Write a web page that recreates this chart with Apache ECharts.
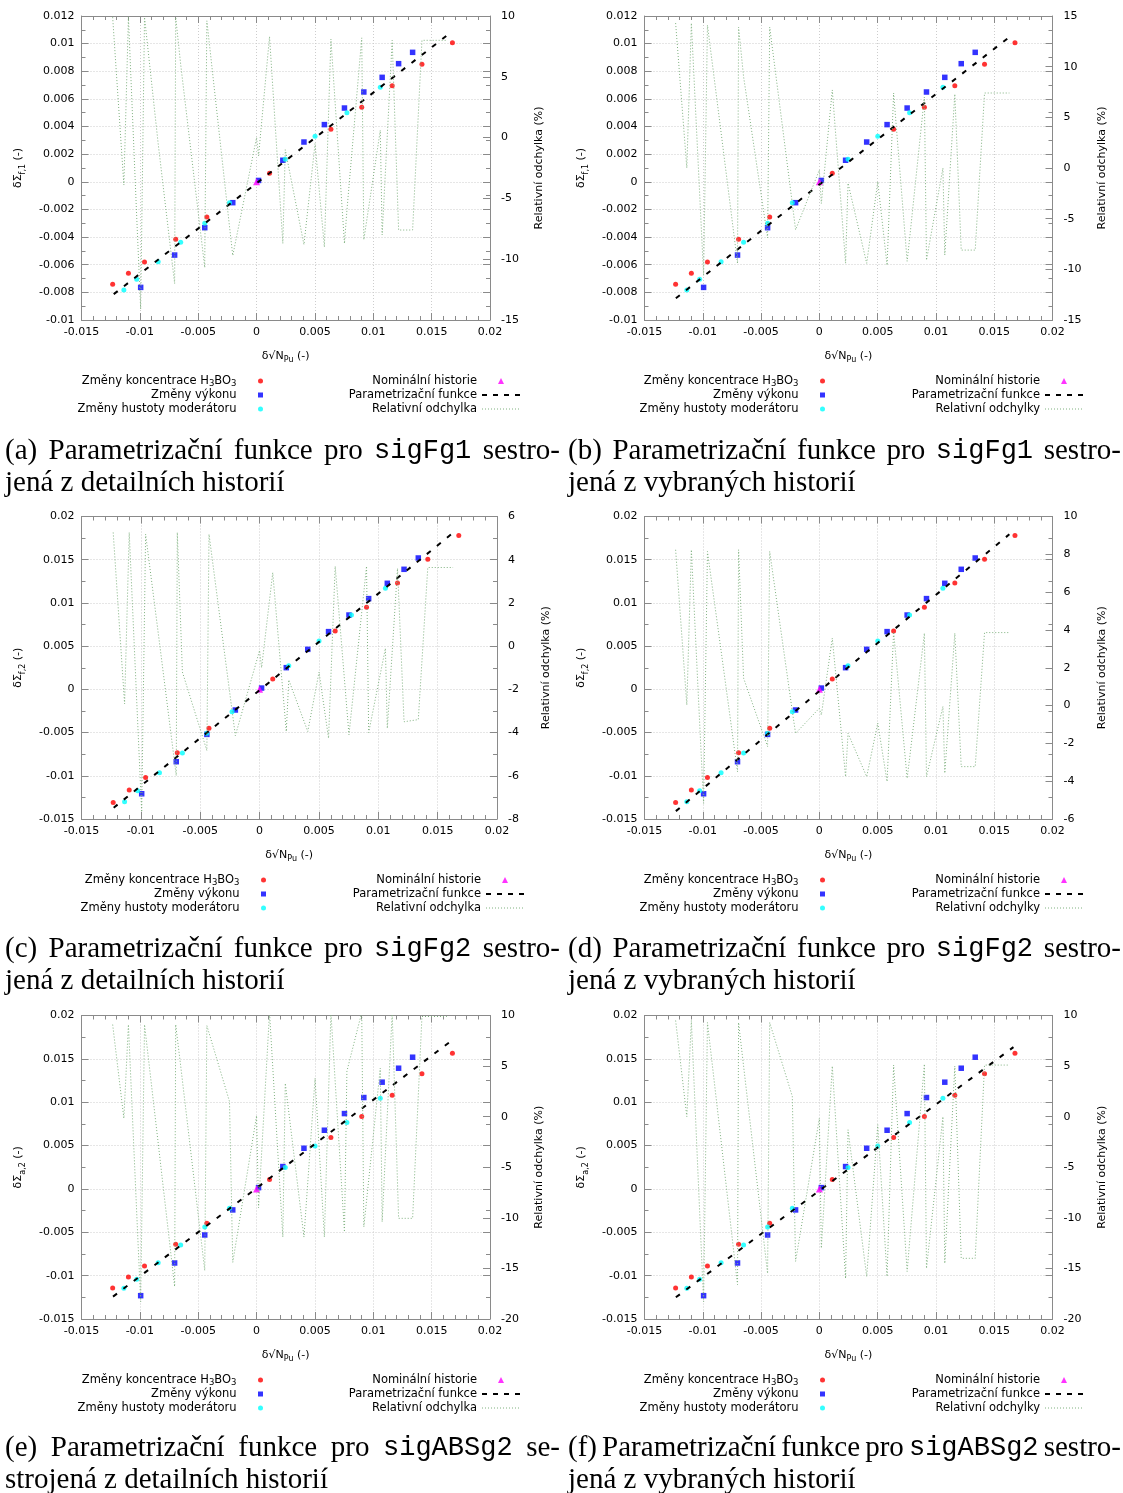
<!DOCTYPE html>
<html>
<head>
<meta charset="utf-8">
<script src="https://cdn.jsdelivr.net/npm/echarts@6/dist/echarts.min.js"></script>
<style>
html,body{margin:0;padding:0;background:#fff;}
#c{width:1123px;height:1493px;}
</style>
</head>
<body>
<div id="c"></div>
<script>
// ---------------- DATA ----------------
// x positions of histories (delta sqrt(N_Pu))
const xRed   = [-0.01233, -0.01098, -0.0096, -0.00693, -0.00426, 0.00111, 0.00637, 0.00901, 0.01162, 0.01417, 0.01678];
const xBlue  = [-0.00993, -0.00702, -0.00444, -0.00204, 0.00017, 0.00225, 0.00406, 0.00581, 0.00753, 0.00919, 0.01076, 0.01217, 0.01337];
const xCyan  = [-0.01137, -0.01027, -0.00843, -0.0065, -0.00444, -0.00232, 0.00246, 0.00501, 0.00774, 0.0106];
const xNominal = [0];
const yNominal = [0];

// delta Sigma_f,1 (panels a, b)
const redF1  = [-0.00742, -0.00662, -0.0058, -0.00416, -0.00254, 0.00062, 0.0038, 0.00539, 0.00696, 0.0085, 0.01007];
const blueF1 = [-0.00764, -0.0053, -0.00332, -0.00151, 0.0001, 0.00156, 0.00288, 0.00414, 0.00534, 0.0065, 0.00756, 0.00855, 0.00937];
const cyanF1 = [-0.00783, -0.00706, -0.00578, -0.00438, -0.003, -0.00151, 0.00163, 0.00329, 0.005, 0.00684];
// delta Sigma_f,2 (panels c, d)
const redF2  = [-0.01308, -0.01165, -0.01019, -0.00733, -0.00451, 0.0012, 0.00675, 0.00949, 0.01231, 0.01505, 0.01779];
const blueF2 = [-0.01208, -0.00837, -0.00521, -0.00239, 0.00015, 0.00251, 0.00463, 0.00668, 0.0086, 0.0105, 0.01227, 0.01389, 0.0152];
const cyanF2 = [-0.013, -0.01173, -0.00965, -0.00737, -0.00509, -0.00259, 0.00274, 0.0056, 0.0086, 0.01169];
// delta Sigma_a,2 (panels e, f)
const redA2  = [-0.01142, -0.01015, -0.00888, -0.00638, -0.00396, 0.00108, 0.00592, 0.00835, 0.01081, 0.01327, 0.01565];
const blueA2 = [-0.01231, -0.00854, -0.00531, -0.00242, 0.00015, 0.00258, 0.00469, 0.00677, 0.00869, 0.01054, 0.01231, 0.01392, 0.01519];
const cyanA2 = [-0.01146, -0.01042, -0.0085, -0.00646, -0.00438, -0.00223, 0.00246, 0.00496, 0.00765, 0.01046];

// parametrization function (dashed)
const fitXA = [-0.01224, 0, 0.01625];  const fitYA = [-0.00813, -0.0001, 0.01055];
const fitXB = [-0.01231, 0, 0.01615];  const fitYB = [-0.00843, -0.0002, 0.01038];
const fitXC = [-0.01229, 0, 0.01614];  const fitYC = [-0.0137, -0.0001, 0.01794];
const fitXD = [-0.01231, 0, 0.0163];   const fitYD = [-0.01409, -0.0002, 0.01794];
const fitXE = [-0.0123, 0, 0.01653];   const fitYE = [-0.01242, 0.0001, 0.01692];
const fitXF = [-0.01231, 0, 0.01665];  const fitYF = [-0.0125, -0.0002, 0.01635];

// relative deviation (%) (dotted, right axis)
const devX = [-0.01233, -0.01137, -0.01098, -0.01027, -0.00993, -0.0096, -0.00843, -0.00702, -0.00693, -0.0065,
              -0.00444, -0.00444, -0.00426, -0.00232, -0.00204, 0, 0.00017, 0.00111, 0.00225, 0.00246,
              0.00406, 0.00501, 0.00581, 0.00637, 0.00753, 0.00774, 0.00901, 0.00919, 0.0106, 0.01076,
              0.01162, 0.01217, 0.01337, 0.01417, 0.0163];
const devA = [9.9, -3.9, 9.9, -6.5, -14.1, 9.9, -0.5, -12.0, 9.9, 6.0, -10.7, -10.2, 9.6, -7.3, -9.7, 0.0, -1.5, 8.3, -8.7, -1.0,
              -8.8, -0.5, -9.0, 8.1, -8.7, -6.0, 8.2, -8.4, 0.6, -8.0, 8.0, -7.6, -7.6, 8.0, 8.0];
const devB = [14.3, 0.0, 14.3, -2.5, -10.6, 14.1, 3.5, -9.4, 13.9, 9.0, -6.9, -6.9, 13.9, -3.5, -6.1, -0.2, -3.5, 7.7, -9.4, -1.5,
              -9.4, -1.35, -9.6, 7.4, -9.2, -7.0, 7.0, -9.1, 0.0, -8.6, 7.3, -8.1, -8.1, 7.4, 7.4];
const devC = [5.26, -2.67, 5.26, -3.5, -7.68, 5.18, 0.15, -5.99, 5.26, -1.2, -4.83, -4.8, 5.18, -2.97, -4.14, -0.2, -1.0, 3.4, -3.95, -1.56,
              -3.95, -1.2, -4.26, 3.7, -4.1, -3.0, 3.7, -4.0, -0.1, -3.8, 3.6, -3.5, -3.4, 3.64, 3.64];
const devD = [8.24, 0.03, 8.24, -0.9, -5.17, 8.15, 2.9, -3.5, 8.24, 1.45, -2.17, -2.17, 8.15, -0.3, -1.47, -0.14, -0.5, 3.56, -3.76, -1.47,
              -3.76, -0.93, -4.02, 3.9, -3.85, -2.8, 3.83, -3.76, -0.05, -3.58, 3.83, -3.23, -3.23, 3.86, 3.86];
const devE = [9.1, -0.16, 9.1, -9.5, -18.3, 9.1, -2.6, -16.8, 9.1, 5.0, -15.2, -15.2, 9.0, 1.5, -14.4, 0.1, -9.0, 10.3, -11.9, 3.3,
              -11.9, 3.8, -11.9, 10.3, -11.4, 4.5, 10.3, -10.9, 4.8, -10.4, 10.3, -10.05, -10.05, 9.9, 9.9];
const devF = [9.5, 0.0, 9.5, -9.4, -18.3, 9.3, -2.4, -16.6, 9.3, 5.0, -15.5, -15.5, 9.3, 2.0, -14.3, -0.15, -13.0, 5.0, -16.0, -1.3,
              -15.8, -0.8, -15.8, 5.1, -15.3, -12.4, 5.2, -15.0, 0.0, -14.5, 5.0, -14.0, -14.0, 5.1, 5.1];

// axis ranges [min, max, interval]
const xRange  = [-0.015, 0.02, 0.005];
const leftF1  = [-0.01, 0.012, 0.002];
const leftF2  = [-0.015, 0.02, 0.005];
const leftA2  = [-0.015, 0.02, 0.005];
const rightA  = [-15, 10, 5];
const rightB  = [-15, 15, 5];
const rightC  = [-8, 6, 2];
const rightD  = [-6, 10, 2];
const rightE  = [-20, 10, 5];
const rightF  = [-20, 10, 5];

// texts
const nameRed = 'Změny koncentrace H₃BO₃';
const nameBlue = 'Změny výkonu';
const nameCyan = 'Změny hustoty moderátoru';
const nameNominal = 'Nominální historie';
const nameFit = 'Parametrizační funkce';
const devNameDetail = 'Relativní odchylka';
const devNameSelected = 'Relativní odchylky';
const rightAxisName = 'Relativní odchylka (%)';

// ---------------- LAYOUT ----------------
const panels = [
  {box:[81.5, 16, 408.5, 304], red:redF1, blue:blueF1, cyan:cyanF1, left:leftF1, right:rightA, dev:devA, fitX:fitXA, fitY:fitYA, sub:'f,1', devName:devNameDetail,
   legL:[860, 374], legR:[602, 374], cap:{x0:5, x1:560, y:451, lab:'(a)', code:'sigFg1', end:'sestro-', line2:'jená z detailních historií'}},
  {box:[644.5, 16, 408, 304], red:redF1, blue:blueF1, cyan:cyanF1, left:leftF1, right:rightB, dev:devB, fitX:fitXB, fitY:fitYB, sub:'f,1', devName:devNameSelected,
   legL:[298, 374], legR:[39, 374], cap:{x0:568, x1:1121, y:451, lab:'(b)', code:'sigFg1', end:'sestro-', line2:'jená z vybraných historií'}},
  {box:[81.5, 516.5, 415.5, 302.5], red:redF2, blue:blueF2, cyan:cyanF2, left:leftF2, right:rightC, dev:devC, fitX:fitXC, fitY:fitYC, sub:'f,2', devName:devNameDetail,
   legL:[857, 873], legR:[598, 873], cap:{x0:5, x1:560, y:949, lab:'(c)', code:'sigFg2', end:'sestro-', line2:'jená z detailních historií'}},
  {box:[644.5, 516.5, 408, 302.5], red:redF2, blue:blueF2, cyan:cyanF2, left:leftF2, right:rightD, dev:devD, fitX:fitXD, fitY:fitYD, sub:'f,2', devName:devNameSelected,
   legL:[298, 873], legR:[39, 873], cap:{x0:568, x1:1121, y:949, lab:'(d)', code:'sigFg2', end:'sestro-', line2:'jená z vybraných historií'}},
  {box:[81.5, 1015.5, 408.5, 303.5], red:redA2, blue:blueA2, cyan:cyanA2, left:leftA2, right:rightE, dev:devE, fitX:fitXE, fitY:fitYE, sub:'a,2', devName:devNameDetail,
   legL:[860, 1373], legR:[602, 1373], cap:{x0:5, x1:560, y:1448, lab:'(e)', code:'sigABSg2', end:'se-', line2:'strojená z detailních historií'}},
  {box:[644.5, 1015.5, 408, 303.5], red:redA2, blue:blueA2, cyan:cyanA2, left:leftA2, right:rightF, dev:devF, fitX:fitXF, fitY:fitYF, sub:'a,2', devName:devNameSelected,
   legL:[298, 1373], legR:[39, 1373], cap:{x0:568, x1:1121, y:1448, lab:'(f)', code:'sigABSg2', end:'sestro-', line2:'jená z vybraných historií'}}
];

const FONT = 'DejaVu Sans';
const AX = '#8a8a8a';
const GRIDC = '#cdcdcd';
const DEVC = '#7fb17f';
const richName = {
  m: {fontFamily: FONT, fontSize: 11, lineHeight: 16, color: '#000'},
  s: {fontFamily: FONT, fontSize: 8, verticalAlign: 'bottom', color: '#000'}
};
const richLegend = {
  n: {fontFamily: FONT, fontSize: 11.5, lineHeight: 14, color: '#000'},
  s: {fontFamily: FONT, fontSize: 8.5, verticalAlign: 'bottom', color: '#000'}
};
const SQ = 'path://M0,0L1,0L1,1L0,1Z';
const TRI = 'path://M0.5,0L1,1L0,1Z';

// caption measuring (for justified first line)
const capSize = 29, monoSize = 27;
const capFont = 'Liberation Serif', monoFont = 'Liberation Mono';
const mctx = document.createElement('canvas').getContext('2d');
function tw(t, mono) {
  mctx.font = (mono ? monoSize : capSize) + 'px "' + (mono ? monoFont : capFont) + '"';
  return mctx.measureText(t).width;
}
function captionText(words, x0, x1, y, justify) {
  const widths = words.map(w => tw(w[0], w[1]));
  const sum = widths.reduce((a, b) => a + b, 0);
  const gap = justify ? (x1 - x0 - sum) / (words.length - 1) : tw(' ', false);
  const text = words.map((w, i) => (i ? '{g| }' : '') + '{' + (w[1] ? 'm' : 't') + '|' + w[0] + '}').join('');
  return {
    type: 'text', x: x0, y: y, silent: true,
    style: {
      text: text, verticalAlign: 'middle', align: 'left',
      rich: {
        t: {fontFamily: capFont, fontSize: capSize, fill: '#000'},
        m: {fontFamily: monoFont, fontSize: monoSize, fill: '#000'},
        g: {fontFamily: capFont, fontSize: capSize, width: gap}
      }
    }
  };
}
function legendFormatter(name) {
  if (name === nameRed) return '{n|Změny koncentrace H}{s|3}{n|BO}{s|3}';
  return '{n|' + name + '}';
}

const grids = [], xAxes = [], yAxes = [], series = [], legends = [], graphics = [];

panels.forEach((p, i) => {
  grids.push({left: p.box[0], top: p.box[1], width: p.box[2], height: p.box[3], containLabel: false, outerBoundsMode: 'none'});
  const xb = i * 2, yl = i * 3;
  const tickStyle = {color: AX, width: 1};
  xAxes.push({
    gridIndex: i, type: 'value', position: 'bottom', min: xRange[0], max: xRange[1], interval: xRange[2],
    axisLine: {show: true, onZero: false, lineStyle: tickStyle},
    axisTick: {show: true, inside: true, length: 7, lineStyle: tickStyle},
    minorTick: {show: true, splitNumber: 5, length: 4, lineStyle: tickStyle},
    splitLine: {show: true, lineStyle: {color: GRIDC, type: [1, 2], width: 1}},
    axisLabel: {color: '#000', fontFamily: FONT, fontSize: 11, margin: 7},
    name: '{m|δ√N}{s|Pu}{m| (-)}', nameLocation: 'middle', nameGap: 28, nameMoveOverlap: false,
    nameTextStyle: {rich: richName}
  });
  xAxes.push({
    gridIndex: i, type: 'value', position: 'top', min: xRange[0], max: xRange[1], interval: xRange[2],
    axisLine: {show: true, onZero: false, lineStyle: tickStyle},
    axisTick: {show: true, inside: true, length: 7, lineStyle: tickStyle},
    minorTick: {show: true, splitNumber: 5, length: 4, lineStyle: tickStyle},
    splitLine: {show: false}, axisLabel: {show: false}
  });
  yAxes.push({
    gridIndex: i, type: 'value', position: 'left', min: p.left[0], max: p.left[1], interval: p.left[2],
    axisLine: {show: true, onZero: false, lineStyle: tickStyle},
    axisTick: {show: true, inside: true, length: 7, lineStyle: tickStyle},
    minorTick: {show: true, splitNumber: 2, length: 4, lineStyle: tickStyle},
    splitLine: {show: true, lineStyle: {color: GRIDC, type: [1, 2], width: 1}},
    axisLabel: {color: '#000', fontFamily: FONT, fontSize: 11, margin: 7},
    name: '{m|δΣ}{s|' + p.sub + '}{m| (-)}', nameLocation: 'middle', nameGap: 55, nameMoveOverlap: false,
    nameTextStyle: {rich: richName}
  });
  yAxes.push({
    gridIndex: i, type: 'value', position: 'right', min: p.right[0], max: p.right[1], interval: p.right[2],
    axisLine: {show: true, onZero: false, lineStyle: tickStyle},
    axisTick: {show: true, inside: true, length: 7, lineStyle: tickStyle},
    splitLine: {show: false},
    axisLabel: {color: '#000', fontFamily: FONT, fontSize: 11, margin: 11},
    name: rightAxisName, nameLocation: 'middle', nameGap: 44, nameMoveOverlap: false,
    nameTextStyle: {color: '#000', fontFamily: FONT, fontSize: 11}
  });
  yAxes.push({
    gridIndex: i, type: 'value', position: 'right', min: p.left[0], max: p.left[1], interval: p.left[2],
    axisLine: {show: false, onZero: false},
    axisTick: {show: true, inside: true, length: 7, lineStyle: tickStyle},
    minorTick: {show: true, splitNumber: 2, length: 4, lineStyle: tickStyle},
    splitLine: {show: false}, axisLabel: {show: false}
  });

  const common = {xAxisIndex: xb, yAxisIndex: yl, silent: true, animation: false};
  series.push(Object.assign({type: 'scatter', name: nameRed, symbol: 'circle', symbolSize: 5,
    itemStyle: {color: '#ff0000'}, data: xRed.map((x, k) => [x, p.red[k]])}, common));
  series.push(Object.assign({type: 'scatter', name: nameBlue, symbol: 'rect', symbolSize: 5.5,
    itemStyle: {color: '#0000ff'}, data: xBlue.map((x, k) => [x, p.blue[k]])}, common));
  series.push(Object.assign({type: 'scatter', name: nameCyan, symbol: 'circle', symbolSize: 5,
    itemStyle: {color: '#00ffff'}, data: xCyan.map((x, k) => [x, p.cyan[k]])}, common));
  series.push(Object.assign({type: 'scatter', name: nameNominal, symbol: 'triangle', symbolSize: 7,
    itemStyle: {color: '#ff00ff'}, data: xNominal.map((x, k) => [x, yNominal[k]])}, common));
  series.push(Object.assign({type: 'line', name: nameFit, symbol: 'none', showSymbol: false,
    lineStyle: {color: '#000', width: 2, type: [5, 8]}, itemStyle: {color: '#000'},
    data: p.fitX.map((x, k) => [x, p.fitY[k]])}, common));
  series.push({type: 'line', name: p.devName, xAxisIndex: xb, yAxisIndex: yl + 1, silent: true, animation: false,
    symbol: 'none', showSymbol: false, clip: true,
    lineStyle: {color: DEVC, width: 1, type: [1, 2]}, itemStyle: {color: DEVC},
    data: devX.map((x, k) => [x, p.dev[k]])});

  const legText = {fontFamily: FONT, fontSize: 11.5, color: '#000', lineHeight: 14, rich: richLegend};
  const hiddenSym = {opacity: 0, color: 'rgba(0,0,0,0)', borderWidth: 0};
  legends.push({orient: 'vertical', align: 'right', right: p.legL[0], top: p.legL[1], padding: 0, itemGap: 0,
    itemWidth: 38, itemHeight: 5, selectedMode: false, textStyle: legText, formatter: legendFormatter,
    data: [{name: nameRed, icon: 'circle'}, {name: nameBlue, icon: SQ}, {name: nameCyan, icon: 'circle'}]});
  legends.push({orient: 'vertical', align: 'right', right: p.legR[0], top: p.legR[1], padding: 0, itemGap: 0,
    itemWidth: 38, itemHeight: 6, selectedMode: false, textStyle: legText, formatter: legendFormatter,
    data: [{name: nameNominal, icon: TRI},
           {name: nameFit, itemStyle: hiddenSym, lineStyle: {color: '#000', width: 2, type: [5, 6]}},
           {name: p.devName, itemStyle: hiddenSym, lineStyle: {color: DEVC, width: 1, type: [1, 2]}}]});

  const c = p.cap;
  graphics.push(captionText([[c.lab], ['Parametrizační'], ['funkce'], ['pro'], [c.code, true], [c.end]], c.x0, c.x1, c.y, true));
  graphics.push(captionText(c.line2.split(' ').map(w => [w]), c.x0, c.x1, c.y + 32, false));
});

const chart = echarts.init(document.getElementById('c'), null, {renderer: 'canvas', width: 1123, height: 1493});
chart.setOption({
  backgroundColor: '#ffffff',
  animation: false,
  grid: grids,
  xAxis: xAxes,
  yAxis: yAxes,
  legend: legends,
  series: series,
  graphic: {elements: graphics}
});
</script>
</body>
</html>
